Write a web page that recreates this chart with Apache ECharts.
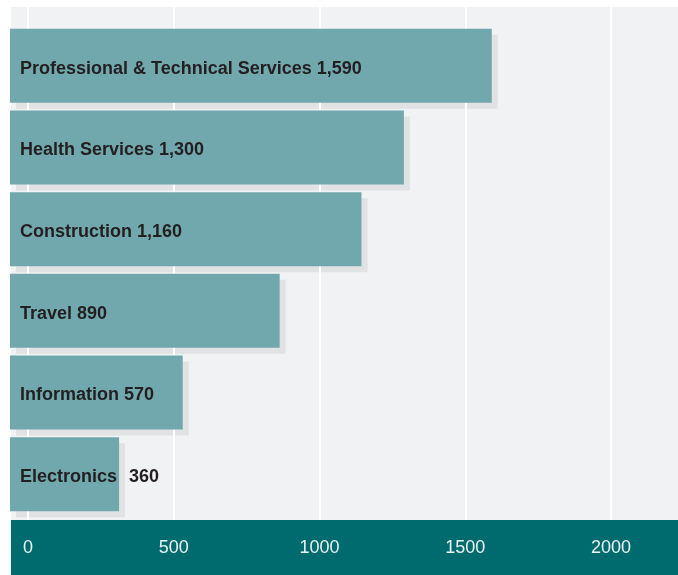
<!DOCTYPE html>
<html>
<head>
<meta charset="utf-8">
<script src="https://cdn.jsdelivr.net/npm/echarts@6/dist/echarts.min.js"></script>
<style>
  html, body { margin: 0; padding: 0; background: #ffffff; }
  #main { width: 678px; height: 575px; }
</style>
</head>
<body>
<div id="main"></div>
<script>
var categories = ['Professional & Technical Services', 'Health Services', 'Construction', 'Travel', 'Information', 'Electronics'];
var values = [1590, 1300, 1160, 890, 570, 360];
var tickValues = [0, 500, 1000, 1500, 2000];

var chart = echarts.init(document.getElementById('main'));

function fmt(n) { return n.toLocaleString('en-US'); }

var option = {
  animation: false,
  graphic: [
    { type: 'rect', z: -10, shape: { x: 11, y: 7, width: 667, height: 513 }, style: { fill: '#f1f2f4' } },
    { type: 'rect', z: -5, shape: { x: 11, y: 520, width: 667, height: 55 }, style: { fill: '#006b6e' } }
  ],
  grid: [
    { left: 10, right: 62, top: 25, bottom: 60 },   // bars
    { left: 16, right: 56, top: 31, bottom: 54 },   // shadows
    { left: 28, right: 67, top: 7, bottom: 55 }     // axis + grid lines
  ],
  xAxis: [
    { gridIndex: 0, type: 'value', min: 0, max: 2000, show: false },
    { gridIndex: 1, type: 'value', min: 0, max: 2000, show: false },
    {
      gridIndex: 2, type: 'value', min: tickValues[0], max: tickValues[tickValues.length - 1], interval: 500,
      axisLine: { show: false }, axisTick: { show: false },
      splitLine: { show: true, lineStyle: { color: '#ffffff', width: 2 } },
      axisLabel: { color: '#e9f1f1', fontSize: 18, fontFamily: 'Liberation Sans', margin: 19,
        formatter: function (v) { return String(v); } }
    }
  ],
  yAxis: [
    { gridIndex: 0, type: 'category', data: categories, inverse: true, show: false },
    { gridIndex: 1, type: 'category', data: categories, inverse: true, show: false },
    { gridIndex: 2, type: 'category', data: categories, inverse: true, show: false }
  ],
  series: [
    {
      type: 'bar', xAxisIndex: 1, yAxisIndex: 1, z: -1, silent: true,
      data: values, barWidth: 74,
      itemStyle: { color: '#e1e2e4' }
    },
    {
      type: 'bar', xAxisIndex: 0, yAxisIndex: 0, z: 2,
      data: values, barWidth: 74,
      itemStyle: { color: '#70a8ad' },
      label: {
        show: true, position: 'insideLeft', distance: 10, offset: [0, 3],
        color: '#231f20', fontSize: 18, fontWeight: 'bold', fontFamily: 'Liberation Sans',
        formatter: function (p) {
          // short bars: value sits just past the bar's shadow
          return p.value < 400 ? p.name + '{gap|}' + fmt(p.value) : p.name + ' ' + fmt(p.value);
        },
        rich: { gap: { width: 12 } }
      }
    }
  ]
};
chart.setOption(option);
</script>
</body>
</html>
